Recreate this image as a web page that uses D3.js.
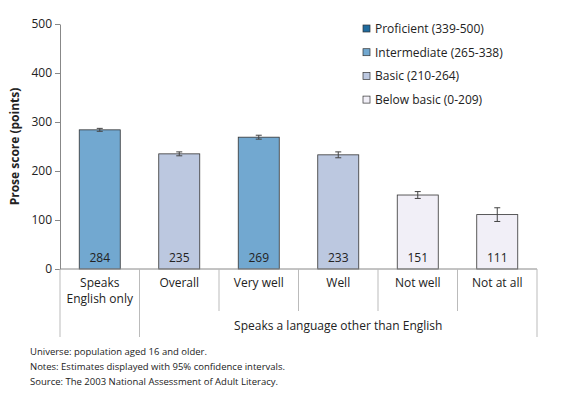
<!DOCTYPE html>
<html><head><meta charset="utf-8">
<script src="https://cdn.jsdelivr.net/npm/d3@7"></script>
<style>body{margin:0;background:#fff}text{font-family:"Open Sans",sans-serif;fill:#222}</style>
</head><body><div id="chart"></div>
<script>
// Data
const categories = ["Speaks English only", "Overall", "Very well", "Well", "Not well", "Not at all"];
const scores = [284, 235, 269, 233, 151, 111];
const errors = [3, 4, 4, 6, 7, 14];
const levels = ["Intermediate", "Basic", "Intermediate", "Basic", "Below basic", "Below basic"];
const legendLabels = ["Proficient (339-500)", "Intermediate (265-338)", "Basic (210-264)", "Below basic (0-209)"];
const legendKeys = ["Proficient", "Intermediate", "Basic", "Below basic"];
const yTicks = [0, 100, 200, 300, 400, 500];
const notes = ["Universe: population aged 16 and older.",
               "Notes: Estimates displayed with 95% confidence intervals.",
               "Source: The 2003 National Assessment of Adult Literacy."];

const colors = {"Proficient": "#1f6b9e", "Intermediate": "#72a8d0", "Basic": "#bcc8e0", "Below basic": "#f1eff7"};

const W = 573, H = 410;
const mLeft = 60, mRight = 537, mTop = 24, mBottom = 269;

const svg = d3.select("#chart").append("svg").attr("width", W).attr("height", H);

const x = d3.scaleBand().domain(categories).range([mLeft, mRight]).paddingInner(0).paddingOuter(0);
const y = d3.scaleLinear().domain([0, 500]).range([mBottom, mTop]);

// y axis
const yAxis = svg.append("g").attr("transform", `translate(${mLeft},0)`)
   .call(d3.axisLeft(y).tickValues(yTicks).tickSize(5).tickSizeOuter(0));
yAxis.select(".domain").attr("stroke", "#888");
yAxis.selectAll(".tick line").attr("stroke", "#888");
yAxis.selectAll("text").style("font-size", "12px").attr("fill", "#222");

svg.append("text")
   .attr("transform", `translate(19,${(mTop + mBottom) / 2}) rotate(-90)`)
   .attr("text-anchor", "middle")
   .style("font-size", "12px").style("font-weight", "bold")
   .text("Prose score (points)");

// bars
const bw = 41;
svg.selectAll("rect.bar").data(categories).join("rect")
   .attr("class", "bar")
   .attr("x", d => x(d) + x.bandwidth() / 2 - bw / 2)
   .attr("width", bw)
   .attr("y", (d, i) => y(scores[i]))
   .attr("height", (d, i) => mBottom - y(scores[i]))
   .attr("fill", (d, i) => colors[levels[i]])
   .attr("stroke", "#333").attr("stroke-width", 0.8);

// error bars
const eg = svg.selectAll("g.err").data(categories).join("g").attr("class", "err")
   .attr("stroke", "#444").attr("stroke-width", 1);
eg.append("line")
   .attr("x1", d => x(d) + x.bandwidth() / 2).attr("x2", d => x(d) + x.bandwidth() / 2)
   .attr("y1", (d, i) => y(scores[i] - errors[i])).attr("y2", (d, i) => y(scores[i] + errors[i]));
[-1, 1].forEach(s => {
  eg.append("line")
     .attr("x1", d => x(d) + x.bandwidth() / 2 - 3).attr("x2", d => x(d) + x.bandwidth() / 2 + 3)
     .attr("y1", (d, i) => y(scores[i] + s * errors[i])).attr("y2", (d, i) => y(scores[i] + s * errors[i]));
});

// value labels
svg.selectAll("text.val").data(categories).join("text")
   .attr("class", "val")
   .attr("x", d => x(d) + x.bandwidth() / 2).attr("y", mBottom - 7)
   .attr("text-anchor", "middle").style("font-size", "12px")
   .text((d, i) => scores[i]);

// category axis
svg.append("line").attr("x1", mLeft).attr("x2", mRight).attr("y1", mBottom).attr("y2", mBottom).attr("stroke", "#888");
x.domain().forEach((d, i) => {
  const xl = x(d);
  svg.append("line").attr("x1", xl).attr("x2", xl).attr("y1", mBottom)
     .attr("y2", i <= 1 ? 337 : 311).attr("stroke", "#bbb");
});
svg.append("line").attr("x1", mRight).attr("x2", mRight).attr("y1", mBottom).attr("y2", 337).attr("stroke", "#bbb");

categories.forEach((d, i) => {
  const cx = x(d) + x.bandwidth() / 2;
  const t = svg.append("text").attr("x", cx).attr("y", 287)
     .attr("text-anchor", "middle").style("font-size", "12px");
  if (i === 0) {
    t.append("tspan").attr("x", cx).text("Speaks");
    t.append("tspan").attr("x", cx).attr("dy", 16).text("English only");
  } else t.text(d);
});
svg.append("text").attr("x", (x(categories[1]) + mRight) / 2).attr("y", 330)
   .attr("text-anchor", "middle").style("font-size", "12px")
   .text("Speaks a language other than English");

// legend
legendLabels.forEach((l, i) => {
  const ly = 29 + i * 23.7;
  svg.append("rect").attr("x", 363).attr("y", ly - 4).attr("width", 7).attr("height", 7)
     .attr("fill", colors[legendKeys[i]]).attr("stroke", "#333").attr("stroke-width", 0.7);
  svg.append("text").attr("x", 375).attr("y", ly + 4).style("font-size", "12px").text(l);
});

// notes
notes.forEach((n, i) => {
  svg.append("text").attr("x", 30).attr("y", 355 + i * 15).style("font-size", "9.5px").text(n);
});
</script></body></html>
